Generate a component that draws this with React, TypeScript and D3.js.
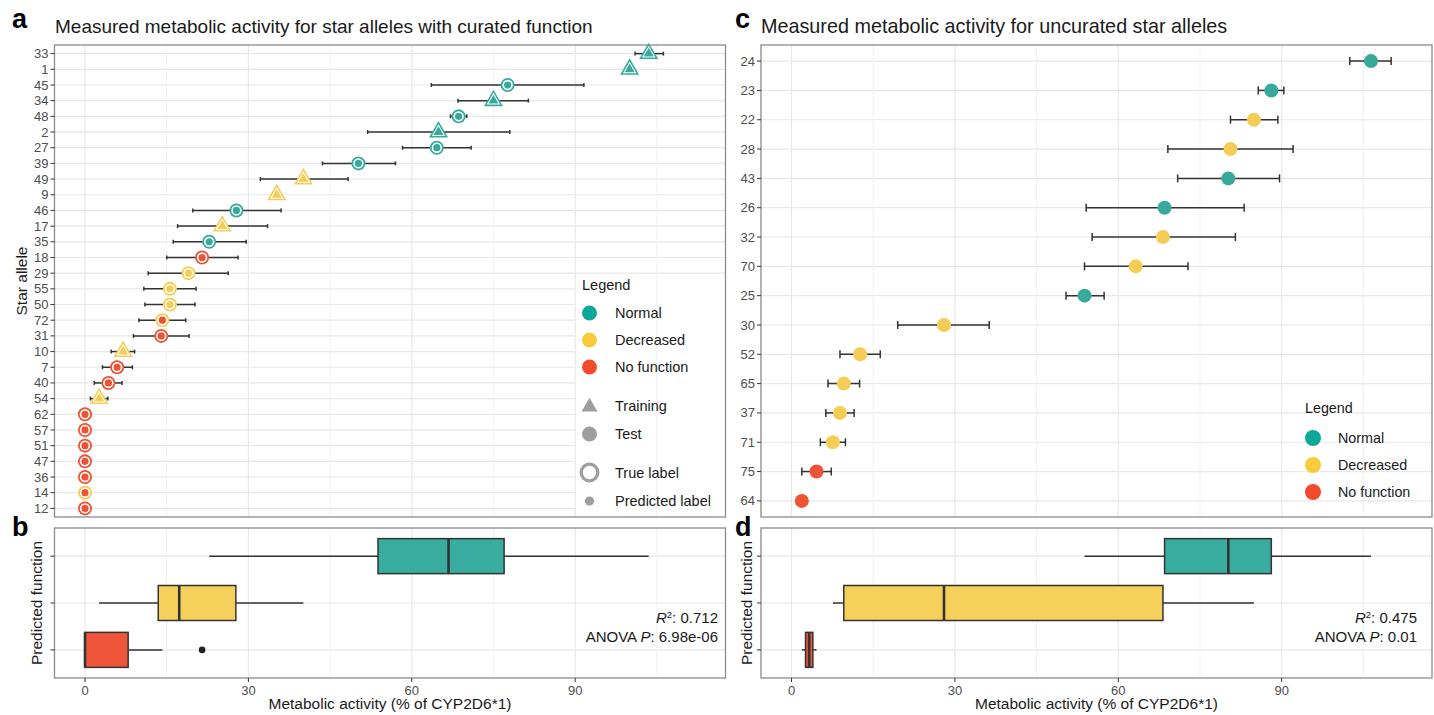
import React from 'react';
import * as d3 from 'd3';

// panel a: curated star alleles (top to bottom)
const curatedAlleles = ['33', '1', '45', '34', '48', '2', '27', '39', '49', '9', '46', '17', '35', '18', '29', '55', '50', '72', '31', '10', '7', '40', '54', '62', '57', '51', '47', '36', '14', '12'];
const curatedActivity = [103.5, 100, 77.6, 75.0, 68.6, 64.9, 64.6, 50.2, 40.1, 35.2, 27.8, 25.2, 22.8, 21.5, 19.0, 15.6, 15.6, 14.2, 14.0, 7.0, 5.9, 4.3, 2.6, 0, 0, 0, 0, 0, 0, 0];
const curatedLow = [101.0, null, 63.6, 68.5, 67.1, 51.9, 58.3, 43.6, 32.2, null, 19.8, 17.0, 16.2, 15.0, 11.6, 10.8, 11.0, 9.9, 8.9, 4.8, 3.2, 1.7, 1.0, null, null, null, null, null, null, null];
const curatedHigh = [106.2, null, 91.6, 81.4, 70.1, 78.0, 70.9, 57.0, 48.3, null, 36.0, 33.5, 29.6, 28.1, 26.3, 20.4, 20.2, 18.5, 19.1, 9.1, 8.7, 6.8, 4.2, null, null, null, null, null, null, null];
const curatedTrue = ['Normal', 'Normal', 'Normal', 'Normal', 'Normal', 'Normal', 'Normal', 'Normal', 'Decreased', 'Decreased', 'Normal', 'Decreased', 'Normal', 'No function', 'Decreased', 'Decreased', 'Decreased', 'Decreased', 'No function', 'Decreased', 'No function', 'No function', 'Decreased', 'No function', 'No function', 'No function', 'No function', 'No function', 'Decreased', 'No function'];
const curatedPred = ['Normal', 'Normal', 'Normal', 'Normal', 'Normal', 'Normal', 'Normal', 'Normal', 'Decreased', 'Decreased', 'Normal', 'Decreased', 'Normal', 'No function', 'Decreased', 'Decreased', 'Decreased', 'No function', 'No function', 'Decreased', 'No function', 'No function', 'Decreased', 'No function', 'No function', 'No function', 'No function', 'No function', 'No function', 'No function'];
const curatedSet = ['Training', 'Training', 'Test', 'Training', 'Test', 'Training', 'Test', 'Test', 'Training', 'Training', 'Test', 'Training', 'Test', 'Test', 'Test', 'Test', 'Test', 'Test', 'Test', 'Training', 'Test', 'Test', 'Training', 'Test', 'Test', 'Test', 'Test', 'Test', 'Test', 'Test'];

// panel c: uncurated star alleles
const uncuratedAlleles = ['24', '23', '22', '28', '43', '26', '32', '70', '25', '30', '52', '65', '37', '71', '75', '64'];
const uncuratedActivity = [106.4, 88.1, 84.9, 80.6, 80.2, 68.5, 68.2, 63.2, 53.8, 28.0, 12.6, 9.6, 8.9, 7.6, 4.6, 1.9];
const uncuratedLow = [102.5, 85.7, 80.6, 69.1, 70.9, 54.1, 55.2, 53.8, 50.4, 19.5, 8.9, 6.7, 6.3, 5.3, 1.9, null];
const uncuratedHigh = [110.1, 90.4, 89.3, 92.1, 89.6, 83.1, 81.5, 72.8, 57.4, 36.3, 16.3, 12.5, 11.5, 9.9, 7.3, null];
const uncuratedPred = ['Normal', 'Normal', 'Decreased', 'Decreased', 'Normal', 'Normal', 'Decreased', 'Decreased', 'Normal', 'Decreased', 'Decreased', 'Decreased', 'Decreased', 'Decreased', 'No function', 'No function'];

const functions = ['Normal', 'Decreased', 'No function'];
const majorTicks = [0, 30, 60, 90];
const minorTicks = [15, 45, 75, 105];
const statsB = ['0.712', '6.98e-06'];
const statsD = ['0.475', '0.01'];

const FONT = '"Liberation Sans", Arial, Helvetica, sans-serif';
const pointColor: Record<string, string> = { Normal: '#37aa9c', Decreased: '#f5cd56', 'No function': '#ee5336' };
const keyColor: Record<string, string> = { Normal: '#0ea898', Decreased: '#f8cb3a', 'No function': '#f34a2e' };
const boxColor: Record<string, string> = { Normal: '#37ac9f', Decreased: '#f5d15c', 'No function': '#ee5539' };
const GRID = '#e8e8e8';
const BORDER = '#8a8a8a';
const INK = '#333';

const tri = (s: number) => `M0,${-s / Math.sqrt(3)}L${s / 2},${s / (2 * Math.sqrt(3))}L${-s / 2},${s / (2 * Math.sqrt(3))}Z`;

function boxStats(vals: number[]) {
  const s = vals.slice().sort(d3.ascending);
  const q1 = d3.quantileSorted(s, 0.25)!;
  const med = d3.quantileSorted(s, 0.5)!;
  const q3 = d3.quantileSorted(s, 0.75)!;
  const iqr = q3 - q1;
  const inside = s.filter(v => v >= q1 - 1.5 * iqr && v <= q3 + 1.5 * iqr);
  return { q1, med, q3, lo: d3.min(inside)!, hi: d3.max(inside)!, out: s.filter(v => !inside.includes(v)) };
}

function Grid({ x, top, bottom, rowYs, mask }: any) {
  const [l, r] = x.range();
  return (
    <g>
      <rect x={l} y={top} width={r - l} height={bottom - top} fill="#fff" />
      {rowYs.map((y: number, i: number) => (
        <line key={i} x1={l} x2={r} y1={y} y2={y} stroke={GRID} strokeWidth={1.2} />
      ))}
      {mask}
      {minorTicks.map(t => <line key={'m' + t} x1={x(t)} x2={x(t)} y1={top} y2={bottom} stroke="#efefef" strokeWidth={0.9} />)}
      {majorTicks.map(t => <line key={'M' + t} x1={x(t)} x2={x(t)} y1={top} y2={bottom} stroke={GRID} strokeWidth={1.2} />)}
    </g>
  );
}

function Border({ x, top, bottom }: any) {
  const [l, r] = x.range();
  return <rect x={l} y={top} width={r - l} height={bottom - top} fill="none" stroke={BORDER} strokeWidth={1.3} />;
}

function YAxis({ x, y, labels }: any) {
  const l = x.range()[0];
  return (
    <g>
      {labels.map((lab: string, i: number) => (
        <g key={i}>
          <line x1={l - 4} x2={l} y1={y(i)} y2={y(i)} stroke={INK} strokeWidth={1} />
          {lab !== '' && (
            <text x={l - 6} y={y(i)} dy="0.35em" textAnchor="end" fontSize={13} fill="#4d4d4d">{lab}</text>
          )}
        </g>
      ))}
    </g>
  );
}

function XAxis({ x, bottom }: any) {
  return (
    <g>
      {majorTicks.map(t => (
        <g key={t}>
          <line x1={x(t)} x2={x(t)} y1={bottom} y2={bottom + 4} stroke={INK} strokeWidth={1} />
          <text x={x(t)} y={bottom + 12} dy="0.35em" textAnchor="middle" fontSize={13} fill="#4d4d4d">{t}</text>
        </g>
      ))}
      <text x={(x.range()[0] + x.range()[1]) / 2} y={bottom + 31} textAnchor="middle" fontSize={15.5} fill="#1a1a1a">
        Metabolic activity (% of CYP2D6*1)
      </text>
    </g>
  );
}

function Boxes({ x, y, groups, box }: any) {
  const h = 35;
  return (
    <g>
      {functions.map((f, i) => {
        const st = boxStats(groups[f]);
        const cy = y(i);
        return (
          <g key={f}>
            <line x1={x(st.lo)} x2={x(st.q1)} y1={cy} y2={cy} stroke={INK} strokeWidth={1.5} />
            <line x1={x(st.q3)} x2={x(st.hi)} y1={cy} y2={cy} stroke={INK} strokeWidth={1.5} />
            <rect x={x(st.q1)} y={cy - h / 2} width={x(st.q3) - x(st.q1)} height={h} fill={box[f]} stroke={INK} strokeWidth={1.5} />
            <line x1={x(st.med)} x2={x(st.med)} y1={cy - h / 2} y2={cy + h / 2} stroke={INK} strokeWidth={2.6} />
            {st.out.map((v, k) => <circle key={k} cx={x(v)} cy={cy} r={3.3} fill="#222" />)}
          </g>
        );
      })}
    </g>
  );
}

function Stats({ right, vals }: any) {
  return (
    <g fontSize={15} fill="#1a1a1a" textAnchor="end">
      <text x={right} y={623}>
        <tspan fontStyle="italic">R</tspan>
        <tspan dy={-5} fontSize={9.5}>2</tspan>
        <tspan dy={5}>: {vals[0]}</tspan>
      </text>
      <text x={right} y={642}>
        ANOVA <tspan fontStyle="italic">P</tspan>: {vals[1]}
      </text>
    </g>
  );
}

export default function App() {
  const W = 1434, H = 715;
  const xA = d3.scaleLinear().domain([-5.6, 117.6]).range([54.5, 725.5]);
  const xC = d3.scaleLinear().domain([-5.6, 117.6]).range([761, 1432]);
  const top = 45, bottom = 517;
  const bTop = 528, bBottom = 678;

  const yA = d3.scalePoint<number>().domain(d3.range(curatedAlleles.length)).range([top, bottom]).padding(0.55);
  const yC = d3.scalePoint<number>().domain(d3.range(uncuratedAlleles.length)).range([top, bottom]).padding(0.55);
  const yB = d3.scalePoint<number>().domain(d3.range(functions.length)).range([bTop, bBottom]).padding(0.6);

  const groupsB: Record<string, number[]> = {};
  const groupsD: Record<string, number[]> = {};
  functions.forEach(f => {
    groupsB[f] = curatedActivity.filter((_, i) => curatedPred[i] === f);
    groupsD[f] = uncuratedActivity.filter((_, i) => uncuratedPred[i] === f);
  });

  const legendA = (
    <rect x={xA(90)} y={276} width={xA.range()[1] - xA(90)} height={bottom - 276} fill="#fff" />
  );

  return (
    <svg width={W} height={H} style={{ position: 'absolute', left: 0, top: 0, background: '#fff' }} fontFamily={FONT}>
      {/* panel labels and titles */}
      <g fontWeight="bold" fontSize={27} fill="#000">
        <text x={12} y={28}>a</text>
        <text x={12} y={536}>b</text>
        <text x={735} y={28}>c</text>
        <text x={735} y={536}>d</text>
      </g>
      <text x={55} y={33} fontSize={19} fill="#1a1a1a">Measured metabolic activity for star alleles with curated function</text>
      <text x={761} y={33} fontSize={19.8} fill="#1a1a1a">Measured metabolic activity for uncurated star alleles</text>

      {/* panel a */}
      <Grid x={xA} top={top} bottom={bottom} rowYs={curatedAlleles.map((_, i) => yA(i))} mask={legendA} />
      {curatedAlleles.map((_, i) => {
        const lo = curatedLow[i], hi = curatedHigh[i];
        if (lo == null || hi == null) return null;
        const cy = yA(i)!;
        return (
          <g key={'ea' + i} stroke={INK} strokeWidth={1.5}>
            <line x1={xA(lo)} x2={xA(hi)} y1={cy} y2={cy} />
            <line x1={xA(lo)} x2={xA(lo)} y1={cy - 2} y2={cy + 2} />
            <line x1={xA(hi)} x2={xA(hi)} y1={cy - 2} y2={cy + 2} />
          </g>
        );
      })}
      {curatedAlleles.map((_, i) => {
        const cx = xA(curatedActivity[i]), cy = yA(i)!;
        const t = pointColor[curatedTrue[i]], p = pointColor[curatedPred[i]];
        if (curatedSet[i] === 'Training') {
          return (
            <g key={'pa' + i} transform={`translate(${cx},${cy})`}>
              <path d={tri(19)} fill={t} />
              <path d={tri(13.5)} fill="#fff" />
              <path d={tri(10)} fill={p} />
            </g>
          );
        }
        return (
          <g key={'pa' + i}>
            <circle cx={cx} cy={cy} r={7} fill={t} />
            <circle cx={cx} cy={cy} r={5.2} fill="#fff" />
            <circle cx={cx} cy={cy} r={3.6} fill={p} />
          </g>
        );
      })}
      <g fontSize={14.5} fill="#1a1a1a">
        <text x={582} y={285} dy="0.35em">Legend</text>
        {functions.map((f, i) => (
          <g key={f}>
            <circle cx={589.5} cy={313 + i * 27} r={7.5} fill={keyColor[f]} />
            <text x={615} y={313 + i * 27} dy="0.35em">{f}</text>
          </g>
        ))}
        <path d={tri(16)} transform="translate(589.5,407)" fill="#9e9e9e" />
        <text x={615} y={406} dy="0.35em">Training</text>
        <circle cx={589.5} cy={434} r={7.5} fill="#9e9e9e" />
        <text x={615} y={434} dy="0.35em">Test</text>
        <circle cx={589.5} cy={472.5} r={8.3} fill="none" stroke="#9e9e9e" strokeWidth={3.3} />
        <text x={615} y={472.5} dy="0.35em">True label</text>
        <circle cx={589.5} cy={501} r={4.6} fill="#9e9e9e" />
        <text x={615} y={501} dy="0.35em">Predicted label</text>
      </g>
      <Border x={xA} top={top} bottom={bottom} />
      <YAxis x={xA} y={yA} labels={curatedAlleles} />
      <text transform="translate(22,281) rotate(-90)" textAnchor="middle" dy="0.35em" fontSize={15.5} fill="#1a1a1a">Star allele</text>

      {/* panel b */}
      <Grid x={xA} top={bTop} bottom={bBottom} rowYs={functions.map((_, i) => yB(i))} />
      <Boxes x={xA} y={yB} groups={groupsB} box={boxColor} />
      <Stats right={718} vals={statsB} />
      <Border x={xA} top={bTop} bottom={bBottom} />
      <YAxis x={xA} y={yB} labels={functions.map(() => '')} />
      <XAxis x={xA} bottom={bBottom} />
      <text transform="translate(37,603) rotate(-90)" textAnchor="middle" dy="0.35em" fontSize={15.5} fill="#1a1a1a">Predicted function</text>

      {/* panel c */}
      <Grid x={xC} top={top} bottom={bottom} rowYs={uncuratedAlleles.map((_, i) => yC(i))} />
      {uncuratedAlleles.map((_, i) => {
        const lo = uncuratedLow[i], hi = uncuratedHigh[i];
        if (lo == null || hi == null) return null;
        const cy = yC(i)!;
        return (
          <g key={'ec' + i} stroke={INK} strokeWidth={1.5}>
            <line x1={xC(lo)} x2={xC(hi)} y1={cy} y2={cy} />
            <line x1={xC(lo)} x2={xC(lo)} y1={cy - 4} y2={cy + 4} />
            <line x1={xC(hi)} x2={xC(hi)} y1={cy - 4} y2={cy + 4} />
          </g>
        );
      })}
      {uncuratedAlleles.map((_, i) => (
        <circle key={'pc' + i} cx={xC(uncuratedActivity[i])} cy={yC(i)} r={7} fill={pointColor[uncuratedPred[i]]} />
      ))}
      <g fontSize={14.3} fill="#1a1a1a">
        <text x={1305} y={408} dy="0.35em">Legend</text>
        {functions.map((f, i) => (
          <g key={f}>
            <circle cx={1313} cy={438 + i * 27} r={8} fill={keyColor[f]} />
            <text x={1338} y={438 + i * 27} dy="0.35em">{f}</text>
          </g>
        ))}
      </g>
      <Border x={xC} top={top} bottom={bottom} />
      <YAxis x={xC} y={yC} labels={uncuratedAlleles} />

      {/* panel d */}
      <Grid x={xC} top={bTop} bottom={bBottom} rowYs={functions.map((_, i) => yB(i))} />
      <Boxes x={xC} y={yB} groups={groupsD} box={boxColor} />
      <Stats right={1417} vals={statsD} />
      <Border x={xC} top={bTop} bottom={bBottom} />
      <YAxis x={xC} y={yB} labels={functions.map(() => '')} />
      <XAxis x={xC} bottom={bBottom} />
      <text transform="translate(747,603) rotate(-90)" textAnchor="middle" dy="0.35em" fontSize={15.5} fill="#1a1a1a">Predicted function</text>
    </svg>
  );
}
